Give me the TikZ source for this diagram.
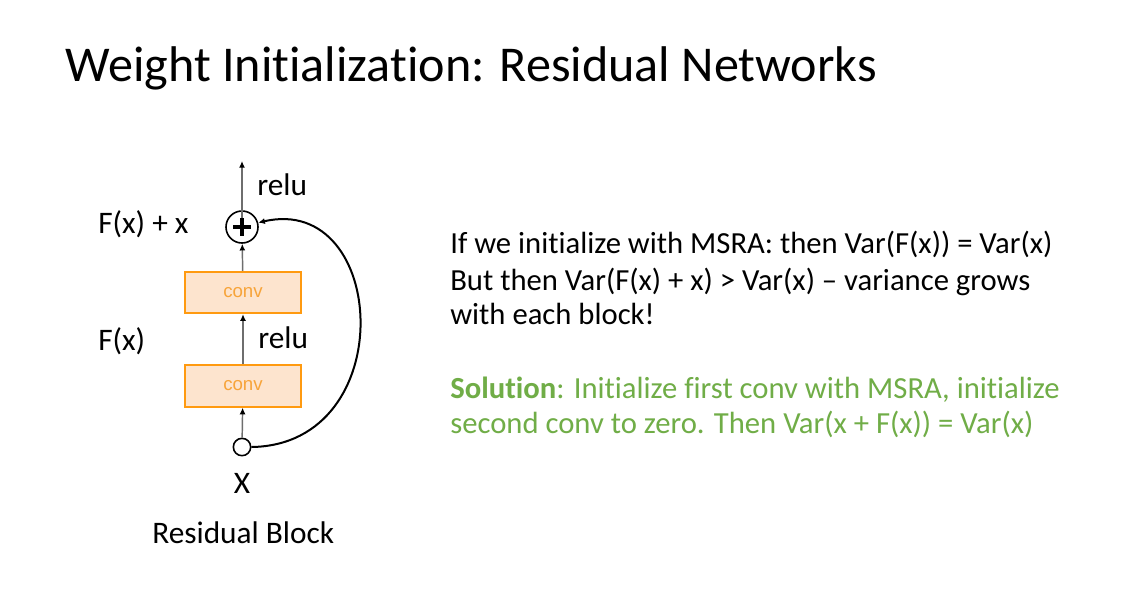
\documentclass[tikz,border=0pt]{standalone}
\usepackage{fontspec}
\setmainfont[Ligatures=NoCommon]{Carlito}
\newfontfamily\convfont{Liberation Sans}
\usetikzlibrary{arrows.meta,positioning}

\definecolor{convline}{HTML}{FF9A10}
\definecolor{convfill}{HTML}{FDE4CE}
\definecolor{convtext}{HTML}{F7A43A}
\definecolor{solgreen}{HTML}{70AD47}
\definecolor{flowgray}{HTML}{6E6E6E}

\tikzset{
  convbox/.style={draw=convline, line width=1.5pt, fill=convfill,
    minimum width=87pt, minimum height=31pt, inner sep=0pt,
    font=\convfont\fontsize{14}{16}\selectfont, text=convtext},
  lbl/.style={font=\fontsize{23.5}{28}\selectfont, inner sep=0pt},
  bodyline/.style={font=\fontsize{23}{28}\selectfont, inner sep=0pt, anchor=base west},
  flow/.style={draw=flowgray, line width=1.1pt,
    -{Latex[length=5pt,width=4.5pt,color=black]}},
}

\begin{document}
\begin{tikzpicture}[x=0.75pt,y=-0.75pt]
  \useasboundingbox[fill=white] (0,0) rectangle (1124,594);

  % Title
  \node[anchor=base west, inner sep=0pt, font=\fontsize{37.6}{44}\selectfont]
    (title) at (65,81) {Weight Initialization: Residual Networks};

  % Residual block
  \node[draw, circle, line width=1.2pt, minimum size=13pt, inner sep=0pt] (xin) at (242,447) {};
  \node[convbox] (conv1) at (243,386) {conv};
  \node[convbox] (conv2) at (243,292.5) {conv};
  \node[draw, circle, line width=1.2pt, minimum size=24pt, inner sep=0pt] (plus) at (242,227) {};
  \draw[line width=2.8pt] ([xshift=-6.5pt]plus.center) -- ([xshift=6.5pt]plus.center)
    ([yshift=-6.5pt]plus.center) -- ([yshift=6.5pt]plus.center);
  \coordinate (out) at (242,161);

  \draw[flow] (xin) -- (conv1);
  \draw[flow] (conv1) -- (conv2);
  \draw[flow] (conv2) -- (plus);
  \draw[flow] ([yshift=-6pt]plus.north) -- (out);

  % shortcut
  \draw[line width=1.5pt, -{Latex[length=5pt,width=4.5pt]}]
    (xin.east) .. controls +(150,-2) and +(130,-30) .. (plus.15);

  % labels
  \node[lbl, anchor=base west] (relutop) at (257,195) {relu};
  \node[lbl, anchor=base west] (sumlbl) at (98,233) {F(x) + x};
  \node[lbl, anchor=base west] (relumid) at (258,348) {relu};
  \node[lbl, anchor=base west] (flbl) at (98,350) {F(x)};
  \node[lbl, anchor=base] (xlbl) at (242,493) {X};
  \node[lbl, anchor=base west] (blocklbl) at (152,543) {Residual Block};

  % explanation
  \node[bodyline] (line1) at (450,253) {If we initialize with MSRA: then Var(F(x)) = Var(x)};
  \node[bodyline] (line2) at (450,290) {But then Var(F(x) + x) > Var(x) – variance grows};
  \node[bodyline] (line3) at (450,324) {with each block!};
  \node[bodyline, text=solgreen] (line4) at (450,398)
    {\textbf{Solution}: Initialize first conv with MSRA, initialize};
  \node[bodyline, text=solgreen] (line5) at (450,433)
    {second conv to zero. Then Var(x + F(x)) = Var(x)};
\end{tikzpicture}
\end{document}
